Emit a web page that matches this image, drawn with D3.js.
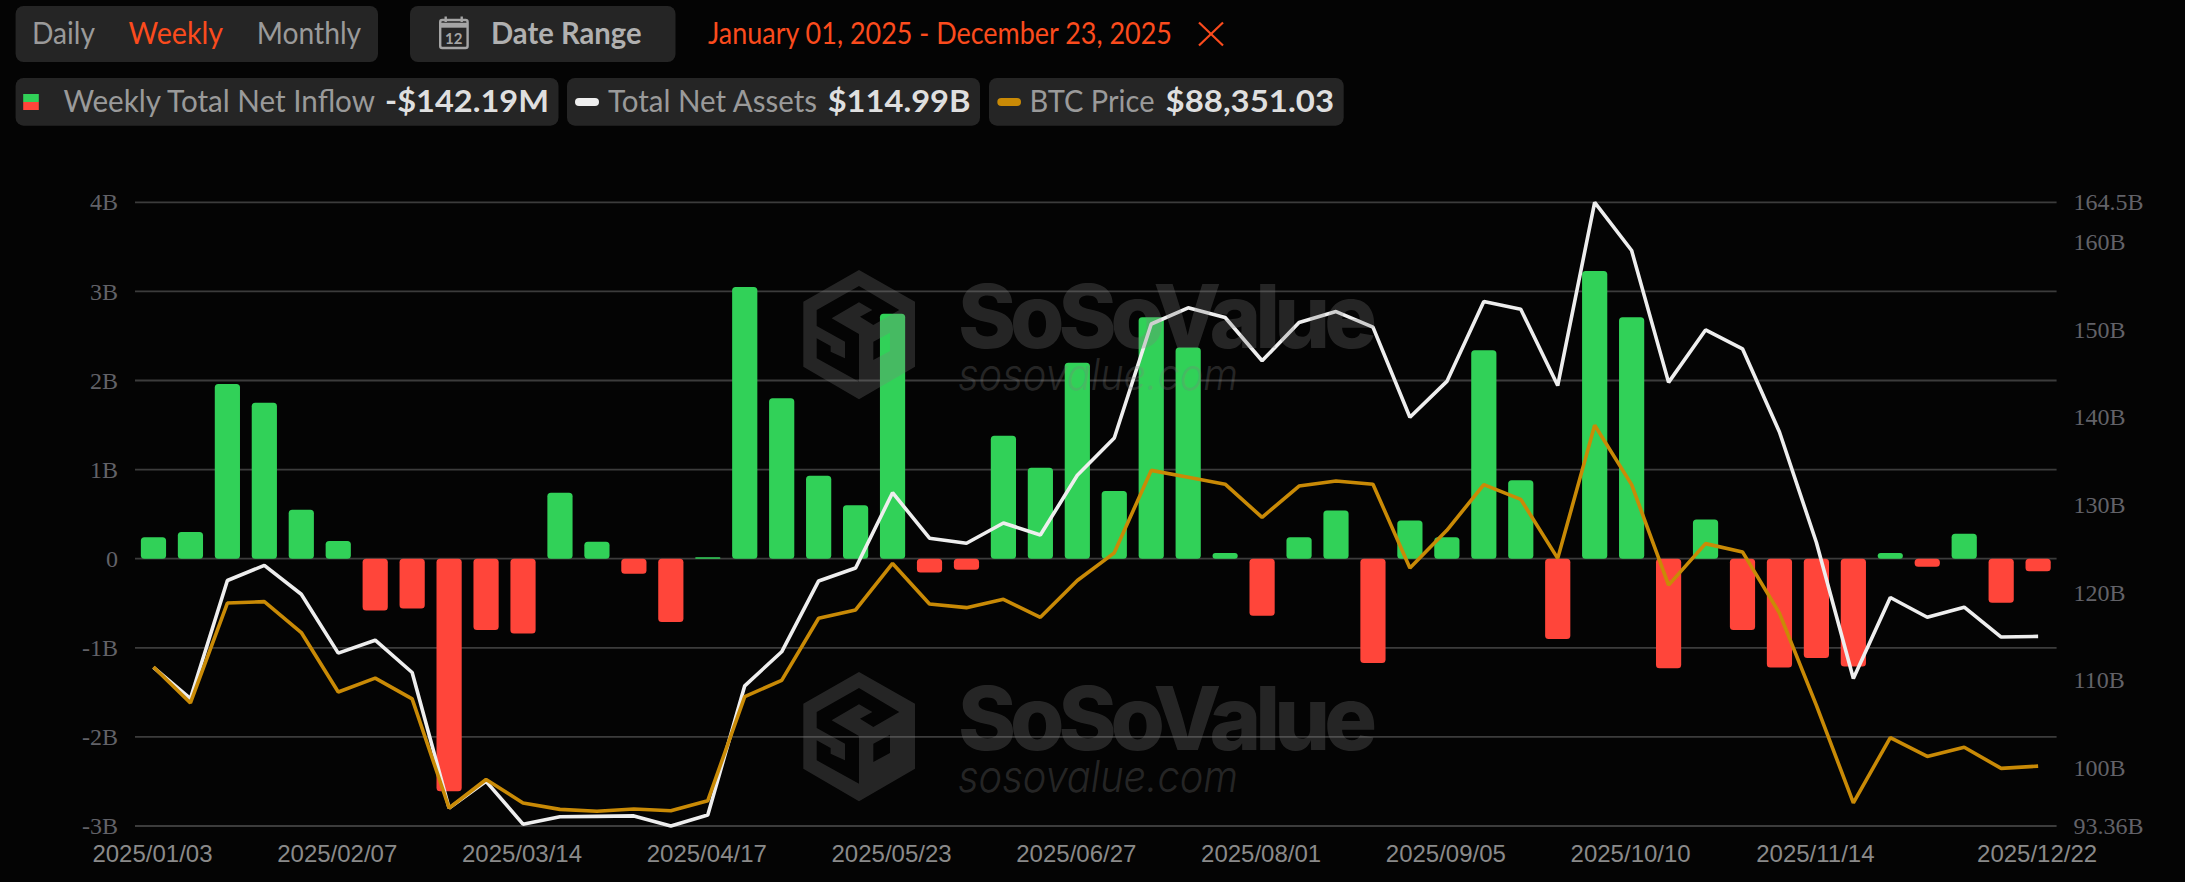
<!DOCTYPE html>
<html>
<head>
<meta charset="utf-8">
<style>
html,body{margin:0;padding:0;background:#040404;overflow:hidden}
svg{display:block}
</style>
<script src="https://cdn.jsdelivr.net/npm/d3@7/dist/d3.min.js"></script>
</head>
<body>
<svg id="c" width="2185" height="882"></svg>
<script>
const dates = ["2025/01/03","2025/01/10","2025/01/17","2025/01/24","2025/01/31","2025/02/07","2025/02/14","2025/02/21","2025/02/28","2025/03/07","2025/03/14","2025/03/21","2025/03/28","2025/04/04","2025/04/11","2025/04/17","2025/04/25","2025/05/02","2025/05/09","2025/05/16","2025/05/23","2025/05/30","2025/06/06","2025/06/13","2025/06/20","2025/06/27","2025/07/03","2025/07/11","2025/07/18","2025/07/25","2025/08/01","2025/08/08","2025/08/15","2025/08/22","2025/08/29","2025/09/05","2025/09/12","2025/09/19","2025/09/26","2025/10/03","2025/10/10","2025/10/17","2025/10/24","2025/10/31","2025/11/07","2025/11/14","2025/11/21","2025/11/28","2025/12/05","2025/12/12","2025/12/19","2025/12/22"];
const xTickLabels = ["2025/01/03","2025/02/07","2025/03/14","2025/04/17","2025/05/23","2025/06/27","2025/08/01","2025/09/05","2025/10/10","2025/11/14","2025/12/22"];
// weekly total net inflow, $B
const inflow = [0.24,0.30,1.96,1.75,0.55,0.20,-0.58,-0.56,-2.61,-0.80,-0.84,0.74,0.19,-0.17,-0.71,0.015,3.05,1.80,0.93,0.60,2.75,-0.155,-0.125,1.38,1.02,2.20,0.76,2.71,2.37,0.065,-0.64,0.24,0.54,-1.17,0.43,0.24,2.34,0.88,-0.90,3.23,2.71,-1.23,0.44,-0.80,-1.22,-1.115,-1.21,0.065,-0.09,0.28,-0.495,-0.142];
// total net assets, $B
const assets = [111.45,107.9,121.36,123.09,119.79,113.08,114.55,110.87,95.4,98.45,93.57,94.41,94.46,94.51,93.36,94.62,109.35,113.23,121.31,122.78,131.38,126.19,125.61,127.92,126.55,133.37,137.62,150.62,152.46,151.36,146.43,150.78,152.04,150.26,139.98,144.07,153.19,152.3,143.6,164.5,159.0,143.96,149.94,147.79,138.3,125.7,110.19,119.42,117.17,118.32,114.91,114.99];
// BTC price, $
const btc = [98090,94557,104387,104523,101488,95644,97003,94965,84229,87037,84727,84093,83912,84138,83957,84953,95191,96777,102892,103708,108283,104297,103934,104750,102983,106607,109325,117434,116754,116075,112813,115893,116392,116075,107830,111545,116029,114580,108781,121873,116029,106154,110231,109416,103391,94331,84727,91160,89302,90208,88124,88351.03];
const leftTicks = [-3,-2,-1,0,1,2,3,4];
const rightTicks = [93.36,100,110,120,130,140,150,160,164.5];
const rangeButtons = ["Daily","Weekly","Monthly"];
const dateRangeText = "January 01, 2025 - December 23, 2025";

const svg = d3.select("#c");
const L = 135, R = 2056.6, T = 202.3, B = 826;
const GREEN = "#31d158", RED = "#ff453a", ORANGE = "#c98a06", WHITE = "#eeeeee", ACCENT = "#fb4b1d";

const x = d3.scaleBand().domain(dates).range([L, R]).paddingInner(0.318).paddingOuter(0.159);
const yL = d3.scaleLinear().domain([-3, 4]).range([B, T]);
const yR = d3.scaleLinear().domain([93.36, 164.5]).range([B, T]);
const yB = d3.scaleLinear().domain([82460, 143800]).range([B, T]);
const cx = d => x(d) + x.bandwidth() / 2;

/* ---------- header ---------- */
const head = svg.append("g").attr("font-family", "Lato");
function pill(x0, y0, x1, y1) {
  head.append("rect").attr("x", x0).attr("y", y0).attr("width", x1 - x0).attr("height", y1 - y0).attr("rx", 8).attr("fill", "#252525");
}
function label(s, x0, w, base, size, fill, weight) {
  head.append("text").text(s).attr("x", x0).attr("y", base).attr("font-size", size).attr("fill", fill)
    .attr("font-weight", weight || 400).attr("textLength", w).attr("lengthAdjust", "spacingAndGlyphs");
}
pill(15.6, 6, 378, 62);
pill(410, 6, 675.5, 62);
pill(15.6, 78, 558.5, 125.7);
pill(567, 78, 980, 125.7);
pill(989, 78, 1343.7, 125.7);

label(rangeButtons[0], 32, 63, 43.5, 30, "#9a9a9a");
label(rangeButtons[1], 128.6, 94.5, 43.5, 30, ACCENT);
label(rangeButtons[2], 256.7, 104.5, 43.5, 30, "#9a9a9a");

// calendar icon
const cal = head.append("g").attr("fill", "none").attr("stroke", "#a5a5a5").attr("stroke-width", 2.4);
cal.append("rect").attr("x", 440.2).attr("y", 20).attr("width", 27.4).attr("height", 28).attr("rx", 2);
cal.append("line").attr("x1", 440.2).attr("x2", 467.6).attr("y1", 25.2).attr("y2", 25.2).attr("stroke-width", 5);
cal.append("line").attr("x1", 445.7).attr("x2", 445.7).attr("y1", 16.5).attr("y2", 22);
cal.append("line").attr("x1", 461.7).attr("x2", 461.7).attr("y1", 16.5).attr("y2", 22);
head.append("text").text("12").attr("x", 453.8).attr("y", 44).attr("text-anchor", "middle").attr("font-size", 15).attr("font-weight", 700).attr("fill", "#a5a5a5");
label("Date Range", 491, 150.5, 43.5, 30, "#b0b0b0", 700);

label(dateRangeText, 708, 464, 43.5, 30, ACCENT);
const xIcon = head.append("g").attr("stroke", ACCENT).attr("stroke-width", 2.2);
xIcon.append("line").attr("x1", 1199).attr("y1", 22.5).attr("x2", 1223).attr("y2", 45.5);
xIcon.append("line").attr("x1", 1223).attr("y1", 22.5).attr("x2", 1199).attr("y2", 45.5);

// legend
head.append("rect").attr("x", 23.2).attr("y", 94).attr("width", 15.6).attr("height", 8).attr("fill", GREEN);
head.append("rect").attr("x", 23.2).attr("y", 102).attr("width", 15.6).attr("height", 8).attr("fill", RED);
label("Weekly Total Net Inflow", 63.4, 311.6, 111.5, 30.5, "#9a9a9a");
label("-$142.19M", 385, 164, 111.5, 30.5, "#dfdfdf", 700);
head.append("rect").attr("x", 575).attr("y", 98).attr("width", 24).attr("height", 8).attr("rx", 4).attr("fill", WHITE);
label("Total Net Assets", 608, 209, 111.5, 30.5, "#9a9a9a");
label("$114.99B", 827.7, 142.8, 111.5, 30.5, "#dfdfdf", 700);
head.append("rect").attr("x", 997.3).attr("y", 98).attr("width", 23.7).attr("height", 8).attr("rx", 4).attr("fill", ORANGE);
label("BTC Price", 1029.5, 125, 111.5, 30.5, "#9a9a9a");
label("$88,351.03", 1165.6, 168.4, 111.5, 30.5, "#dfdfdf", 700);

/* ---------- grid ---------- */
svg.append("g").selectAll("line").data(leftTicks).join("line")
  .attr("x1", L).attr("x2", R).attr("y1", d => yL(d)).attr("y2", d => yL(d))
  .attr("stroke", "#3c3c3c").attr("stroke-width", 1.8);

/* ---------- axes ---------- */
const styleAxis = (g, font, size, color) => {
  g.select(".domain").remove();
  g.selectAll(".tick line").remove();
  g.selectAll("text").attr("font-family", font).attr("font-size", size).attr("fill", color);
};
svg.append("g").attr("transform", `translate(${L},0)`)
  .call(d3.axisLeft(yL).tickValues(leftTicks).tickSize(0).tickPadding(17).tickFormat(d => d === 0 ? "0" : d + "B"))
  .call(styleAxis, "Liberation Serif", 24, "#626268");
svg.append("g").attr("transform", `translate(${R},0)`)
  .call(d3.axisRight(yR).tickValues(rightTicks).tickSize(0).tickPadding(17).tickFormat(d => d + "B"))
  .call(styleAxis, "Liberation Serif", 24, "#626268");
svg.append("g").attr("transform", `translate(-1,${B})`)
  .call(d3.axisBottom(x).tickValues(xTickLabels).tickSize(0).tickPadding(19))
  .call(styleAxis, "Liberation Sans", 24, "#8a8a8a");

/* ---------- bars ---------- */
svg.append("g").selectAll("rect").data(dates).join("rect")
  .attr("x", d => x(d)).attr("width", x.bandwidth())
  .attr("y", (d, i) => Math.min(yL(inflow[i]), yL(0)))
  .attr("height", (d, i) => Math.abs(yL(inflow[i]) - yL(0)))
  .attr("rx", (d, i) => Math.min(3.5, Math.abs(yL(inflow[i]) - yL(0)) / 2))
  .attr("fill", (d, i) => inflow[i] >= 0 ? GREEN : RED);

/* ---------- lines ---------- */
const lineOf = (vals, scale) => d3.line().x(d => cx(d)).y((d, i) => scale(vals[i]))(dates);
svg.append("path").attr("d", lineOf(assets, yR)).attr("fill", "none").attr("stroke", WHITE).attr("stroke-width", 3.6).attr("stroke-linejoin", "bevel");
svg.append("path").attr("d", lineOf(btc, yB)).attr("fill", "none").attr("stroke", ORANGE).attr("stroke-width", 3.6).attr("stroke-linejoin", "bevel");

/* ---------- watermark ---------- */
const logo = "M177 0L345 95L345 290L177 388L10 290L10 95Z" +
  "M177 48L298 120L220 165L180 140L217 120L177 97L95 145L177 192L177 335L50 265L50 205L92 228L92 245L135 265L135 215L50 168L50 120Z" +
  "M220 215L270 188L270 243L220 270Z";
[270, 672].forEach(oy => {
  const w = svg.append("g").attr("opacity", 0.27).attr("fill", "#808080");
  w.append("path").attr("d", logo).attr("fill-rule", "evenodd").attr("transform", `translate(800,${oy}) scale(0.3333)`);
  w.append("text").text("SoSoValue").attr("x", 958).attr("y", oy + 78).attr("font-family", "Inter").attr("font-weight", 800)
    .attr("font-size", 88).attr("textLength", 419).attr("lengthAdjust", "spacing");
  w.append("text").text("sosovalue.com").attr("x", 958).attr("y", oy + 120).attr("font-family", "Inter").attr("font-weight", 300)
    .attr("font-style", "italic").attr("font-size", 44).attr("textLength", 280).attr("lengthAdjust", "spacingAndGlyphs");
});
</script>
</body>
</html>
